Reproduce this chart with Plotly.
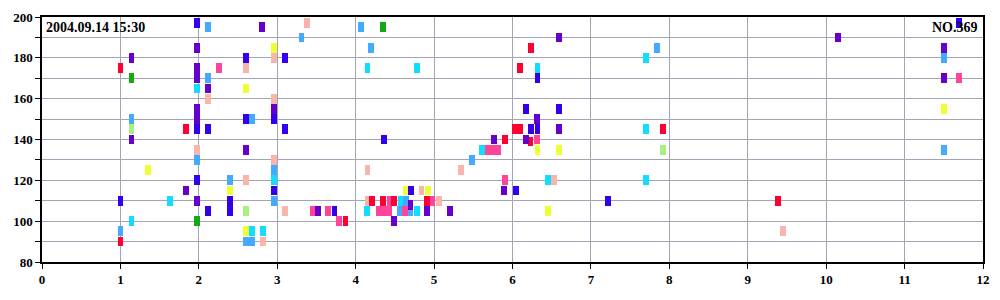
import plotly.graph_objects as go

# ---- data (x = hour offset, y = value) ----
red_x = [1.00, 1.00, 1.84, 3.87, 4.21, 4.35, 4.49, 4.91, 5.90, 6.03, 6.10, 6.10, 6.23, 6.24, 7.92, 9.39]
red_y = [175, 90, 145, 100, 110, 110, 110, 110, 140, 145, 145, 175, 139, 185, 145, 110]

purple_x = [1.14, 1.14, 1.84, 1.98, 1.98, 1.98, 1.98, 1.98, 1.98, 2.12, 2.60, 2.81, 2.96,
            3.52, 4.49, 4.70, 4.91, 5.20, 5.76, 5.89, 6.17, 6.31, 6.59, 6.59, 10.15, 11.50, 11.50]
purple_y = [180, 140, 115, 185, 175, 170, 155, 150, 110, 165, 135, 195, 155,
            105, 100, 108, 105, 105, 140, 115, 140, 150, 190, 145, 190, 185, 170]

blue_x = [1.00, 1.98, 1.98, 1.98, 2.12, 2.12, 2.40, 2.40, 2.60, 2.60, 2.96, 2.96, 3.10, 3.10,
          3.73, 4.36, 4.71, 6.04, 6.17, 6.24, 6.32, 6.32, 6.59, 7.22, 11.69]
blue_y = [110, 197, 145, 120, 145, 105, 110, 105, 180, 150, 150, 115, 180, 145,
          105, 140, 115, 115, 155, 145, 145, 170, 155, 110, 197]

lightblue_x = [1.00, 1.14, 1.98, 2.12, 2.12, 2.40, 2.60, 2.68, 2.68, 2.96, 2.96, 3.31, 4.07, 4.20,
               4.56, 4.64, 4.70, 5.48, 7.84, 11.50, 11.50]
lightblue_y = [95, 150, 130, 195, 170, 120, 90, 150, 90, 125, 110, 190, 195, 185,
               105, 110, 105, 130, 185, 180, 135]

cyan_x = [1.14, 1.63, 1.98, 2.68, 2.82, 2.96, 4.14, 4.15, 4.57, 4.78, 4.78, 5.61, 6.32, 6.45, 7.70, 7.70, 7.70]
cyan_y = [100, 110, 165, 95, 95, 120, 105, 175, 110, 105, 175, 135, 175, 120, 180, 145, 120]

salmon_x = [1.98, 2.12, 2.60, 2.60, 2.82, 2.96, 2.96, 2.96, 3.10, 3.38, 4.15, 4.15, 4.84, 5.06, 5.34, 6.53, 9.45]
salmon_y = [135, 160, 175, 120, 90, 180, 160, 130, 105, 197, 125, 110, 115, 110, 125, 120, 95]

yellow_x = [1.35, 2.40, 2.60, 2.60, 2.96, 4.64, 4.92, 6.32, 6.45, 6.59, 11.50]
yellow_y = [125, 115, 165, 95, 185, 115, 115, 135, 105, 135, 155]

lightgreen_x = [1.14, 2.60, 7.92]
lightgreen_y = [145, 105, 135]

green_x = [1.14, 1.98, 4.35]
green_y = [170, 100, 195]

hotpink_x = [2.26, 3.45, 3.65, 3.79, 4.29, 4.36, 4.43, 4.43, 4.63, 4.98,
             5.68, 5.755, 5.82, 5.90, 6.31, 11.69]
hotpink_y = [175, 105, 105, 100, 105, 105, 105, 110, 105, 110,
             135, 135, 135, 120, 140, 170]

series = [
    ("salmon", salmon_x, salmon_y, "#F9B5AA"),
    ("yellow", yellow_x, yellow_y, "#EEFF33"),
    ("lightgreen", lightgreen_x, lightgreen_y, "#AAF07F"),
    ("green", green_x, green_y, "#11AA11"),
    ("lightblue", lightblue_x, lightblue_y, "#44AAFF"),
    ("cyan", cyan_x, cyan_y, "#11DDFF"),
    ("hotpink", hotpink_x, hotpink_y, "#FF4499"),
    ("red", red_x, red_y, "#FF0033"),
    ("purple", purple_x, purple_y, "#6600CC"),
    ("blue", blue_x, blue_y, "#3300EE"),
]

BAR_W = 0.073   # x-units
BAR_H = 4.8     # y-units

fig = go.Figure()
for name, xs, ys, col in series:
    fig.add_trace(go.Bar(
        x=xs, y=[BAR_H] * len(xs), base=[v - BAR_H / 2 for v in ys],
        width=BAR_W, marker=dict(color=col, line=dict(width=0)),
        name=name, showlegend=False, hoverinfo="skip",
    ))

tick_font = dict(family="Liberation Serif", size=13, color="black", weight="bold")
grid_col = "#A3A5B4"

fig.update_layout(
    width=1000, height=300,
    margin=dict(l=42, r=11, t=10, b=38),
    paper_bgcolor="white", plot_bgcolor="white",
    barmode="overlay", bargap=0,
    xaxis=dict(range=[0, 12], dtick=1, tick0=0, showgrid=True, gridcolor=grid_col, gridwidth=1,
               zeroline=False, ticks="outside", ticklen=5, tickcolor="black",
               showline=True, linecolor="black", linewidth=1.5, mirror=True,
               tickfont=tick_font),
    yaxis=dict(range=[80, 200], dtick=20, tick0=80, showgrid=True, gridcolor=grid_col, gridwidth=1,
               zeroline=False, ticks="outside", ticklen=5, tickcolor="black",
               showline=True, linecolor="black", linewidth=1.5, mirror=True,
               tickfont=tick_font,
               minor=dict(dtick=10, tick0=80, ticks="outside", ticklen=5, tickcolor="black",
                          showgrid=True, gridcolor=grid_col, gridwidth=1)),
    annotations=[
        dict(text="2004.09.14 15:30", xref="paper", yref="paper", x=0, y=1,
             xanchor="left", yanchor="top", xshift=2, yshift=-1, showarrow=False,
             font=dict(family="Liberation Serif", size=14, color="black", weight="bold")),
        dict(text="NO.369", xref="paper", yref="paper", x=1, y=1,
             xanchor="right", yanchor="top", xshift=-3, yshift=-1, showarrow=False,
             font=dict(family="Liberation Serif", size=14, color="black", weight="bold")),
    ],
)

fig.write_html("out.html")
